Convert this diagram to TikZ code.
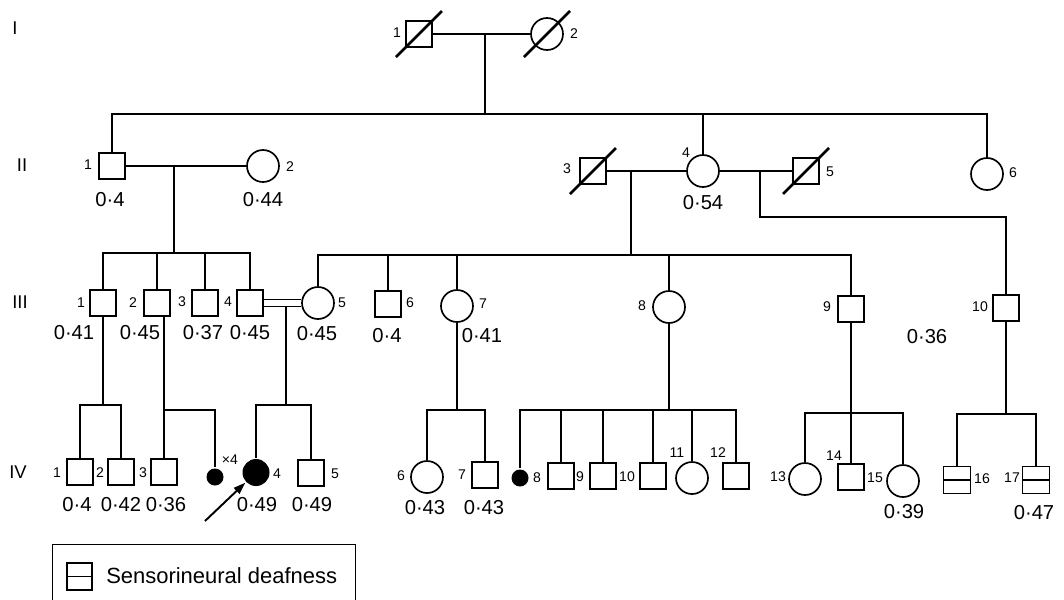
\documentclass[tikz,border=0pt]{standalone}
\usepackage{fontspec}
\setmainfont{Liberation Sans}
\usetikzlibrary{arrows.meta,positioning,calc}

\begin{document}
\begin{tikzpicture}[
    x=0.2mm, y=-0.2mm, line width=1.45pt,
    male/.style={draw, line width=0.95pt, minimum size=5.2mm, inner sep=0pt},
    female/.style={draw, circle, line width=0.95pt, minimum size=6.4mm, inner sep=0pt},
    proband/.style={circle, fill=black, minimum size=5.4mm, inner sep=0pt},
    sdot/.style={circle, fill=black, minimum size=3.4mm, inner sep=0pt},
    deaf/.style={draw, line width=0.95pt, minimum width=5.4mm, minimum height=5.4mm, inner sep=0pt,
        path picture={\draw[line width=1.1pt] (path picture bounding box.west) -- (path picture bounding box.east);}},
    slash/.style={line width=1.45pt},
    num/.style={font=\fontsize{8}{9}\selectfont, inner sep=0pt},
    val/.style={font=\fontsize{11.5}{13}\selectfont, inner sep=0pt},
    gen/.style={font=\fontsize{10.5}{12}\selectfont, inner sep=0pt},
]
\useasboundingbox (0,0) rectangle (1064,599);

% generation labels
\node[gen] (gI) at (15,28) {I};
\node[gen] (gII) at (22,165) {II};
\node[gen] (gIII) at (20,302) {III};
\node[gen] (gIV) at (18,472) {IV};

% generation I
\node[male] (I1) at (419,34) {};
\node[female] (I2) at (547,34) {};
\node[num] (nI1) at (397,33) {1};
\node[num] (nI2) at (574,34) {2};
\draw[slash] (I1) +(-23,23) -- +(23,-23);
\draw[slash] (I2) +(-23,23) -- +(23,-23);

% generation II
\node[male] (II1) at (112,166) {};
\node[female] (II2) at (263,166) {};
\node[male] (II3) at (593,171) {};
\node[female] (II4) at (703,171) {};
\node[male] (II5) at (806,171) {};
\node[female] (II6) at (987,174) {};
\draw[slash] (II3) +(-23,23) -- +(23,-23);
\draw[slash] (II5) +(-23,23) -- +(23,-23);
\node[num] (nII1) at (88,165) {1};
\node[num] (nII2) at (290,167) {2};
\node[num] (nII3) at (567,169) {3};
\node[num] (nII4) at (686,153) {4};
\node[num] (nII5) at (830,172) {5};
\node[num] (nII6) at (1013,173) {6};
\node[val] (vII1) at (110,200) {0·4};
\node[val] (vII2) at (263,200) {0·44};
\node[val] (vII4) at (703,203) {0·54};

% generation III
\node[male] (III1) at (103,303) {};
\node[male] (III2) at (157,303) {};
\node[male] (III3) at (205,303) {};
\node[male] (III4) at (250,303) {};
\node[female] (III5) at (318,303) {};
\node[male] (III6) at (388,304) {};
\node[female] (III7) at (457,306) {};
\node[female] (III8) at (669,307) {};
\node[male] (III9) at (851,309) {};
\node[male] (III10) at (1006,308) {};
\node[num] (nIII1) at (81,303) {1};
\node[num] (nIII2) at (133,303) {2};
\node[num] (nIII3) at (182,302) {3};
\node[num] (nIII4) at (228,302) {4};
\node[num] (nIII5) at (342,303) {5};
\node[num] (nIII6) at (410,303) {6};
\node[num] (nIII7) at (483,304) {7};
\node[num] (nIII8) at (642,306) {8};
\node[num] (nIII9) at (827,307) {9};
\node[num] (nIII10) at (980,307) {10};
\node[val] (vIII1) at (74,333) {0·41};
\node[val] (vIII2) at (140,333) {0·45};
\node[val] (vIII3) at (203,333) {0·37};
\node[val] (vIII4) at (250,333) {0·45};
\node[val] (vIII5) at (317,334) {0·45};
\node[val] (vIII6) at (387,336) {0·4};
\node[val] (vIII7) at (482,336) {0·41};
\node[val] (vIII9) at (927,337) {0·36};

% generation IV
\node[male] (IV1) at (80,472) {};
\node[male] (IV2) at (121,472) {};
\node[male] (IV3) at (164,472) {};
\node[sdot] (IVd1) at (215,477) {};
\node[proband] (IV4) at (256,472.5) {};
\node[male] (IV5) at (311,473) {};
\node[female] (IV6) at (427,477) {};
\node[male] (IV7) at (485,475) {};
\node[sdot] (IVd2) at (520,478) {};
\node[male] (IV8) at (561,476) {};
\node[male] (IV9) at (603,476) {};
\node[male] (IV10) at (653,476) {};
\node[female] (IV11) at (692,478) {};
\node[male] (IV12) at (736,476) {};
\node[female] (IV13) at (805,479) {};
\node[male] (IV14) at (851,477) {};
\node[female] (IV15) at (903,481) {};
\node[deaf] (IV16) at (957,480) {};
\node[deaf] (IV17) at (1036,480) {};
\node[num] (nIV1) at (57,473) {1};
\node[num] (nIV2) at (100,473) {2};
\node[num] (nIV3) at (143,473) {3};
\node[num] (nIVd1) at (230,460) {×4};
\node[num] (nIV4) at (277,474) {4};
\node[num] (nIV5) at (335,474) {5};
\node[num] (nIV6) at (401,476) {6};
\node[num] (nIV7) at (462,475) {7};
\node[num] (nIV8) at (537,478) {8};
\node[num] (nIV9) at (580,477) {9};
\node[num] (nIV10) at (627,477) {10};
\node[num] (nIV11) at (677,453) {11};
\node[num] (nIV12) at (718,453) {12};
\node[num] (nIV13) at (778,477) {13};
\node[num] (nIV14) at (834,456) {14};
\node[num] (nIV15) at (875,478) {15};
\node[num] (nIV16) at (982,479) {16};
\node[num] (nIV17) at (1012,478) {17};
\node[val] (vIV1) at (77,505) {0·4};
\node[val] (vIV2) at (121,505) {0·42};
\node[val] (vIV3) at (166,505) {0·36};
\node[val] (vIV4) at (257,505) {0·49};
\node[val] (vIV5) at (312,505) {0·49};
\node[val] (vIV6) at (425,508) {0·43};
\node[val] (vIV7) at (484,508) {0·43};
\node[val] (vIV15) at (904,512) {0·39};
\node[val] (vIV17) at (1034,513) {0·47};

% marriages and sibships
\coordinate (m1) at (485,34);
\coordinate (sib1) at (485,114);
\draw (I1) -- (I2);
\draw (m1) -- (sib1);
\draw (II1) |- (sib1) -| (II6);
\draw (II4) -- (II4 |- sib1);

\coordinate (m2) at (174,166);
\coordinate (sib2) at (174,253);
\draw (II1) -- (II2);
\draw (m2) -- (sib2);
\draw (III1) |- (sib2) -| (III4);
\draw (III2) -- (III2 |- sib2);
\draw (III3) -- (III3 |- sib2);

\coordinate (m3) at (631,171);
\coordinate (sib3) at (631,255);
\draw (II3) -- (II4);
\draw (II4) -- (II5);
\draw (m3) -- (sib3);
\draw (III5) |- (sib3) -| (III9);
\draw (III6) -- (III6 |- sib3);
\draw (III7) -- (III7 |- sib3);
\draw (III8) -- (III8 |- sib3);

\coordinate (m4) at (760,171);
\coordinate (sib4) at (760,217);
\draw (m4) -- (sib4) -| (III10);

\coordinate (sib5) at (103,405);
\draw (III1) -- (sib5);
\draw (IV1) |- (sib5) -| (IV2);

\coordinate (sib6) at (164,410);
\draw (III2.south -| IV3) -- (IV3);
\draw (sib6) -| (IVd1);

\coordinate (m5) at (286,306.5);
\coordinate (sib7) at (286,405);
\draw[double, double distance=1.05mm, line width=0.9pt] (III4) -- (III5);
\draw (m5) -- (sib7);
\draw (IV4) |- (sib7) -| (IV5);

\coordinate (sib8) at (457,410);
\draw (III7) -- (sib8);
\draw (IV6) |- (sib8) -| (IV7);

\coordinate (sib9) at (669,410);
\draw (III8) -- (sib9);
\draw (IVd2) |- (sib9) -| (IV12);
\draw (IV8) -- (IV8 |- sib9);
\draw (IV9) -- (IV9 |- sib9);
\draw (IV10) -- (IV10 |- sib9);
\draw (IV11) -- (IV11 |- sib9);

\coordinate (sib10) at (851,413);
\draw (III9) -- (IV14);
\draw (IV13) |- (sib10) -| (IV15);

\coordinate (sib11) at (1006,414);
\draw (III10) -- (sib11);
\draw (IV16) |- (sib11) -| (IV17);

% proband arrow
\coordinate (arr) at (205,521);
\draw[-{Triangle[length=2.4mm,width=1.6mm]}, line width=1.1pt] (arr) -- (IV4);

% key
\node[draw, line width=0.7pt, minimum width=60.6mm, minimum height=12.4mm, anchor=north west, inner sep=0pt] (legend) at (52,544) {};
\node[deaf, minimum width=5mm] (legsym) at (79.5,576.5) {};
\node[anchor=west, inner sep=0pt, font=\fontsize{12.5}{14}\selectfont] (legtxt) at (105,576) {Sensorineural deafness};
\end{tikzpicture}
\end{document}
